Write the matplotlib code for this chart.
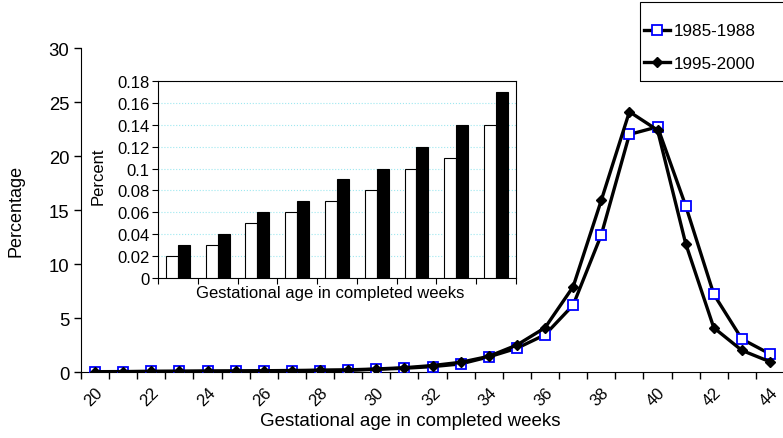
import numpy as np
import matplotlib.pyplot as plt
import matplotlib.transforms as mtransforms
from matplotlib.patches import Rectangle
from matplotlib.ticker import FixedLocator, NullFormatter

plt.rcParams['font.family'] = ['Liberation Sans', 'DejaVu Sans']

# Datos curva principal
weeks = list(range(20, 45))
p_1985 = [0.02, 0.03, 0.05, 0.06, 0.07, 0.08, 0.10, 0.11, 0.14, 0.16, 0.25, 0.35, 0.5, 0.75,
          1.4, 2.2, 3.45, 6.2, 12.7, 22.0, 22.7, 15.4, 7.2, 3.05, 1.67]
p_1995 = [0.03, 0.04, 0.06, 0.07, 0.09, 0.10, 0.12, 0.14, 0.17, 0.2, 0.28, 0.4, 0.6, 0.9,
          1.45, 2.5, 4.1, 7.9, 15.9, 24.1, 22.4, 11.9, 4.1, 2.0, 0.95]
x_ticklabels = [str(w) for w in range(20, 45, 2)]
y_ticks = [0, 5, 10, 15, 20, 25, 30]

# Datos del recuadro (semanas 20-28)
inset_1985 = [0.02, 0.03, 0.05, 0.06, 0.07, 0.08, 0.10, 0.11, 0.14]
inset_1995 = [0.03, 0.04, 0.06, 0.07, 0.09, 0.10, 0.12, 0.14, 0.17]
inset_yticks = [0, 0.02, 0.04, 0.06, 0.08, 0.1, 0.12, 0.14, 0.16, 0.18]
inset_ylabels = ['0', '0.02', '0.04', '0.06', '0.08', '0.1', '0.12', '0.14', '0.16', '0.18']

W, H = 783, 439
fig = plt.figure(figsize=(W / 100, H / 100), dpi=100)
ax = fig.add_axes([0.1034, 0.1503, 0.898, 0.738])

ax.plot(weeks, p_1985, color='black', lw=2.4, marker='s', ms=6.5,
        mfc='white', mec='#0000ff', mew=1.3, label='1985-1988', zorder=3)
ax.plot(weeks, p_1995, color='black', lw=2.4, marker='D', ms=5.2,
        mfc='black', mec='black', label='1995-2000', zorder=4)

ax.set_xlim(19.5, 44.5)
ax.set_ylim(0, 30)
ax.set_yticks(y_ticks)
ax.set_xticks(range(20, 45, 2))
ax.set_xticklabels(x_ticklabels, rotation=45, ha='right', va='top',
                   rotation_mode='anchor')
shift = mtransforms.ScaledTranslation(0.06, 0, fig.dpi_scale_trans)
for lab in ax.get_xticklabels():
    lab.set_transform(lab.get_transform() + shift)
ax.xaxis.set_minor_locator(FixedLocator(np.arange(19.5, 45, 1)))
ax.tick_params(axis='x', which='major', length=0, pad=9, labelsize=12)
ax.tick_params(axis='x', which='minor', length=5, width=1, direction='out')
ax.tick_params(axis='y', length=5, width=1, direction='out', labelsize=13.3)
for s in ['top', 'right']:
    ax.spines[s].set_visible(False)
ax.set_ylabel('Percentage', fontsize=13)
ax.yaxis.set_label_coords(-0.08, 0.5)
ax.set_xlabel('Gestational age in completed weeks', fontsize=13.5)
ax.xaxis.set_label_coords(0.468, -0.123)

# Leyenda: marco dibujado a mano (se sale por la derecha como en el original)
fig.patches.append(Rectangle((640 / W, 1 - 82 / H), 160 / W, 79 / H,
                             transform=fig.transFigure, fill=False,
                             edgecolor='black', lw=0.8))
fig.legend(loc='upper left', bbox_to_anchor=(644 / W, 1 - 24.5 / H), fontsize=12.3,
           frameon=False, handlelength=1.5, labelspacing=1.04, borderpad=0,
           borderaxespad=0, handletextpad=0.25)

# Recuadro
ins = fig.add_axes([0.2018, 0.3645, 0.457, 0.4487])
idx = np.arange(len(inset_1985))
ins.bar(idx - 0.15, inset_1985, width=0.3, color='white', edgecolor='black', lw=0.8, zorder=3)
ins.bar(idx + 0.15, inset_1995, width=0.3, color='black', edgecolor='black', lw=0.8, zorder=3)
ins.set_xlim(-0.5, len(idx) - 0.5)
ins.set_ylim(0, 0.18)
ins.set_yticks(inset_yticks)
ins.set_yticklabels(inset_ylabels)
ins.set_xticks(np.arange(-0.5, len(idx), 1))
ins.xaxis.set_major_formatter(NullFormatter())
ins.tick_params(axis='x', length=4, direction='out')
ins.tick_params(axis='y', length=4, direction='out', labelsize=12, pad=2)
ins.yaxis.grid(True, color='#9ee8f0', ls=':', lw=0.8, zorder=0)
ins.set_ylabel('Percent', fontsize=12)
ins.yaxis.set_label_coords(-0.145, 0.52)
ins.set_xlabel('Gestational age in completed weeks', fontsize=12)
ins.xaxis.set_label_coords(0.48, -0.035)

fig.savefig('out.png', dpi=100)
